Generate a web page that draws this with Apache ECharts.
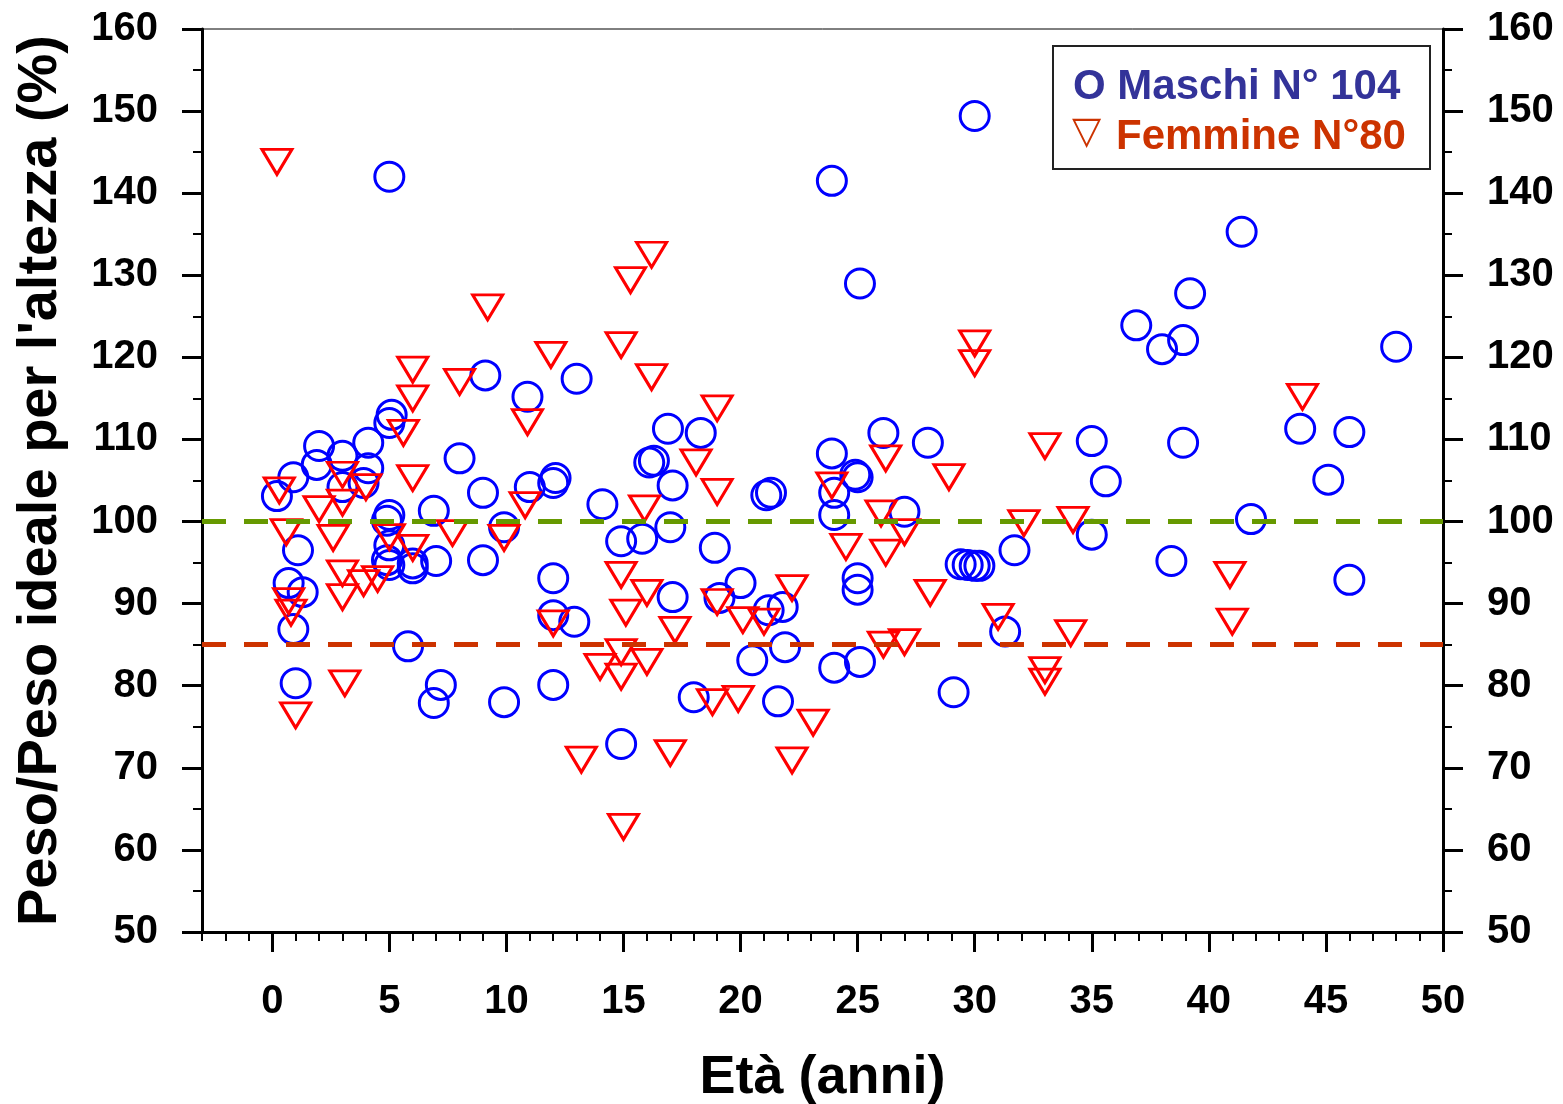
<!DOCTYPE html>
<html>
<head>
<meta charset="utf-8">
<script src="https://cdn.jsdelivr.net/npm/echarts@6/dist/echarts.min.js"></script>
<style>
  html, body { margin: 0; padding: 0; background: #fff; }
  #chart { width: 1563px; height: 1104px; }
</style>
</head>
<body>
<div id="chart"></div>
<script>
// maschi: età (anni) e peso/peso ideale (%)
var maleAge = [0.2, 0.9, 0.7, 1.1, 1.3, 0.9, 1.0, 2.0, 1.9, 3.0, 3.0, 3.9, 4.1, 4.1, 5.1, 5.0,
    5.0, 4.9, 5.0, 4.9, 5.0, 6.0, 6.0, 5.8, 5.0, 6.9, 7.0, 6.9, 7.2, 8.0, 9.0, 9.0, 9.1,
    9.9, 9.9, 10.9, 11.0, 12.1, 12.0, 12.0, 12.0, 12.0, 13.0, 12.9, 14.1, 14.9, 15.8, 14.9,
    16.1, 16.3, 16.9, 17.0, 17.1, 17.1, 18.3, 18.0, 18.9, 19.1, 20.0, 20.5, 21.1, 21.3, 21.2,
    21.8, 21.9, 21.6, 23.9, 23.9, 24.0, 24.0, 24.0, 24.9, 25.0, 25.1, 25.0, 25.0, 25.1, 26.1,
    27.0, 28.0, 30.0, 29.4, 29.7, 30.0, 30.2, 29.1, 31.3, 31.7, 35.0, 35.0, 35.6, 36.9, 38.0,
    38.9, 38.9, 39.2, 38.4, 41.4, 41.8, 43.9, 45.1, 46.0, 46.0, 48.0];
var maleRatio = [103.1, 105.4, 92.5, 96.5, 91.4, 86.9, 80.3, 109.2, 106.9, 108.0, 104.2, 104.7,
    109.6, 106.5, 113.0, 112.0, 100.8, 100.1, 97.1, 95.3, 94.7, 94.9, 94.3, 84.8, 142.0, 101.3,
    95.2, 77.9, 80.1, 107.7, 103.5, 95.3, 117.8, 78.0, 99.3, 115.2, 104.2, 105.3, 104.7, 93.1,
    88.6, 80.1, 117.4, 87.8, 102.1, 97.6, 97.9, 72.9, 107.2, 107.4, 111.3, 99.3, 104.4, 90.8,
    110.8, 78.6, 96.8, 90.7, 92.5, 83.1, 103.2, 103.5, 89.2, 89.6, 84.7, 78.1, 141.5, 108.3,
    103.5, 100.8, 82.2, 105.7, 105.4, 129.0, 93.1, 91.7, 82.9, 110.8, 101.2, 109.6, 149.4,
    94.8, 94.7, 94.6, 94.6, 79.2, 86.6, 96.5, 109.8, 98.4, 104.9, 123.9, 121.0, 122.1, 109.6,
    127.8, 95.2, 135.3, 100.3, 111.3, 105.1, 110.9, 92.9, 121.3];

// femmine
var femaleAge = [0.2, 0.3, 0.6, 0.7, 0.8, 1.0, 2.0, 2.6, 3.0, 3.0, 3.0, 3.0, 3.1, 4.0, 3.9, 4.5,
    5.0, 5.6, 6.0, 6.0, 6.0, 6.0, 7.7, 8.0, 9.2, 9.9, 10.8, 10.9, 11.9, 12.0, 13.2, 14.0, 14.9,
    15.3, 16.2, 16.2, 15.9, 14.9, 15.1, 16.0, 17.2, 14.9, 16.0, 14.9, 15.0, 17.0, 19.0, 18.1,
    19.0, 19.0, 20.1, 18.8, 19.9, 21.0, 22.2, 23.1, 22.2, 23.9, 24.5, 26.0, 26.2, 26.2, 26.1,
    27.0, 27.0, 28.1, 28.9, 30.0, 30.0, 32.1, 31.0, 33.0, 33.0, 33.0, 34.2, 34.1, 40.9, 41.0, 44.0];
var femaleRatio = [143.8, 103.8, 98.7, 90.3, 88.9, 76.4, 101.5, 98.0, 105.7, 102.3, 93.7, 90.8,
    80.3, 104.2, 92.5, 93.0, 98.1, 110.8, 118.5, 115.0, 105.3, 96.8, 98.6, 117.0, 126.1, 98.0,
    102.0, 112.1, 120.3, 87.6, 71.0, 82.3, 121.5, 129.4, 132.5, 117.6, 101.6, 93.5, 88.9, 91.3,
    86.8, 84.1, 82.9, 81.1, 62.8, 71.8, 113.8, 107.2, 103.6, 90.2, 88.0, 78.0, 78.4, 87.8, 91.9,
    75.5, 70.9, 104.4, 96.9, 101.0, 96.2, 107.7, 85.0, 85.3, 98.7, 91.3, 105.4, 121.7, 119.3,
    99.8, 88.4, 109.2, 81.9, 80.5, 100.2, 86.4, 93.5, 87.8, 115.2];

// linee di riferimento (100% e 85%)
var refValues = [100, 85];
var refColors = ['#669900', '#CC3300'];

var legendLines = ['O Maschi N° 104', 'Femmine N°80'];

var font = '"Liberation Sans", Arial, sans-serif';

function pairs(xs, ys) {
    return xs.map(function (x, i) { return [x, ys[i]]; });
}

var chart = echarts.init(document.getElementById('chart'));

var yAxisBase = {
    type: 'value',
    gridIndex: 0,
    min: 50,
    max: 160,
    interval: 10,
    axisLine: { show: true, onZero: false, lineStyle: { color: '#000', width: 3 } },
    axisTick: { show: true, length: 20, lineStyle: { color: '#000', width: 3 } },
    minorTick: { show: true, splitNumber: 2, length: 9, lineStyle: { color: '#000', width: 2 } },
    splitLine: { show: false },
    axisLabel: { color: '#000', fontSize: 40, fontWeight: 'bold', fontFamily: font, margin: 44 }
};

var option = {
    backgroundColor: '#fff',
    animation: false,
    grid: [
        { left: 202, right: 120, top: 29, bottom: 172, outerBoundsMode: 'none',
          show: true, borderColor: '#000', borderWidth: 1 },
        // griglia per le tacche principali, parte da 0
        { left: 272.25, right: 120, top: 29, bottom: 172, outerBoundsMode: 'none' }
    ],
    xAxis: [
        {
            type: 'value', gridIndex: 0, min: -3, max: 50, interval: 1,
            axisLine: { show: true, onZero: false, lineStyle: { color: '#000', width: 3 } },
            axisTick: { show: true, length: 9, lineStyle: { color: '#000', width: 2 } },
            axisLabel: { show: false },
            splitLine: { show: false },
            name: 'Età (anni)',
            nameLocation: 'middle',
            nameGap: 119,
            nameTextStyle: { color: '#000', fontSize: 54, fontWeight: 'bold', fontFamily: font }
        },
        {
            type: 'value', gridIndex: 1, min: 0, max: 50, interval: 5,
            axisLine: { show: false, onZero: false },
            axisTick: { show: true, length: 20, lineStyle: { color: '#000', width: 3 } },
            axisLabel: { color: '#000', fontSize: 40, fontWeight: 'bold', fontFamily: font, margin: 50 },
            splitLine: { show: false }
        }
    ],
    yAxis: [
        Object.assign({}, yAxisBase, {
            position: 'left',
            name: "Peso/Peso ideale per l'altezza (%)",
            nameLocation: 'middle',
            nameGap: 133,
            nameTextStyle: { color: '#000', fontSize: 56, fontWeight: 'bold', fontFamily: font }
        }),
        Object.assign({}, yAxisBase, { position: 'right' }),
        { type: 'value', gridIndex: 1, min: 50, max: 160, show: false }
    ],
    series: [
        {
            name: 'Maschi',
            type: 'scatter',
            xAxisIndex: 0, yAxisIndex: 0,
            symbol: 'circle',
            symbolSize: 29,
            silent: true,
            itemStyle: { color: 'rgba(0,0,0,0)', borderColor: '#0000FF', borderWidth: 3, opacity: 1 },
            data: pairs(maleAge, maleRatio)
        },
        {
            name: 'Femmine',
            type: 'scatter',
            xAxisIndex: 0, yAxisIndex: 0,
            symbol: 'triangle',
            symbolRotate: 180,
            symbolSize: [30, 25],
            silent: true,
            itemStyle: { color: 'rgba(0,0,0,0)', borderColor: '#FF0000', borderWidth: 3, opacity: 1 },
            data: pairs(femaleAge, femaleRatio)
        },
        {
            name: 'riferimenti',
            type: 'line',
            xAxisIndex: 0, yAxisIndex: 0,
            z: 5,
            data: [],
            markLine: {
                silent: true,
                symbol: ['none', 'none'],
                label: { show: false },
                lineStyle: { type: [24, 18], width: 5 },
                data: refValues.map(function (v, i) {
                    return { yAxis: v, lineStyle: { color: refColors[i], type: [24, 18], width: 5 } };
                })
            }
        }
    ],
    graphic: [
        {
            type: 'rect', left: 1052, top: 45, z: 10,
            shape: { width: 377, height: 123 },
            style: { fill: '#fff', stroke: '#222', lineWidth: 2 }
        },
        {
            type: 'text', left: 1073, top: 66, z: 11,
            style: { text: legendLines[0], fill: '#333399', font: 'bold 42px ' + font }
        },
        {
            type: 'text', left: 1072, top: 114, z: 11,
            style: { text: '▽', fill: '#CC3300', font: '38px "DejaVu Sans", sans-serif' }
        },
        {
            type: 'text', left: 1116, top: 116, z: 11,
            style: { text: legendLines[1], fill: '#CC3300', font: 'bold 42px ' + font }
        }
    ]
};

chart.setOption(option);
</script>
</body>
</html>
